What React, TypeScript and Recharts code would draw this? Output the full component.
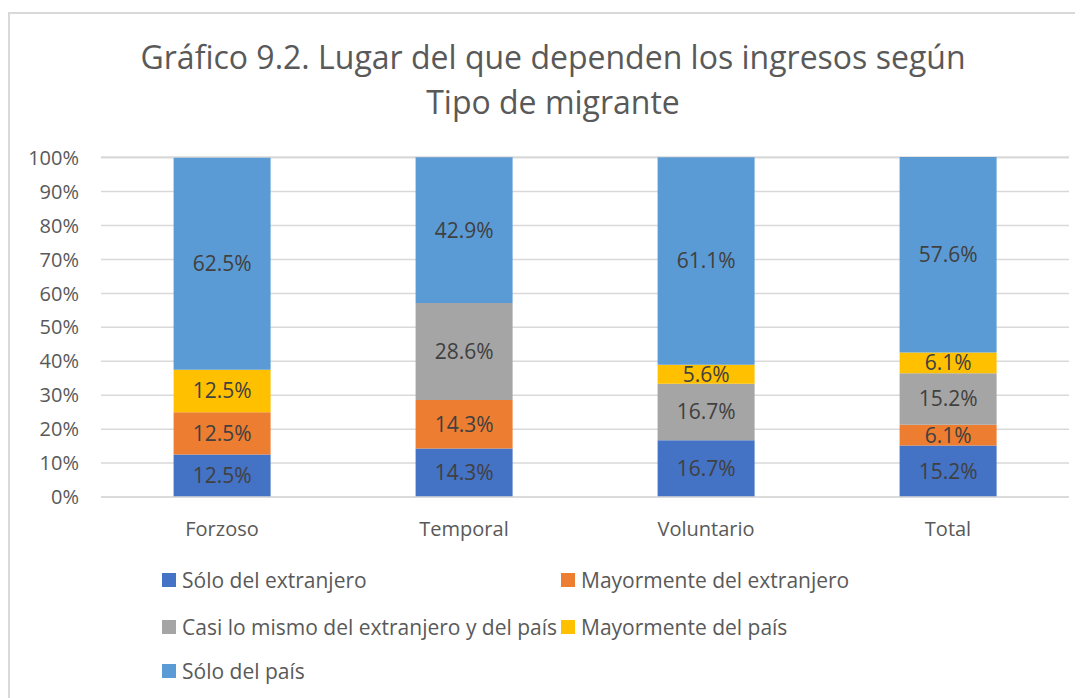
import React from "react";
import { Bar, BarChart, CartesianGrid, LabelList, XAxis, YAxis } from "recharts";

const CATEGORIES = ["Forzoso", "Temporal", "Voluntario", "Total"];
const SOLO_EXTRANJERO = [12.5, 14.3, 16.7, 15.2];
const MAYOR_EXTRANJERO = [12.5, 14.3, 0, 6.1];
const CASI_MISMO = [0, 28.6, 16.7, 15.2];
const MAYOR_PAIS = [12.5, 0, 5.6, 6.1];
const SOLO_PAIS = [62.5, 42.9, 61.1, 57.6];
const Y_TICKS = [0, 10, 20, 30, 40, 50, 60, 70, 80, 90, 100];

const SERIES = [
  { key: "soloExt", name: "Sólo del extranjero", color: "#4472C4" },
  { key: "mayorExt", name: "Mayormente del extranjero", color: "#ED7D31" },
  { key: "casi", name: "Casi lo mismo del extranjero y del país", color: "#A5A5A5" },
  { key: "mayorPais", name: "Mayormente del país", color: "#FFC000" },
  { key: "soloPais", name: "Sólo del país", color: "#5B9BD5" },
];

const data = CATEGORIES.map((c, i) => ({
  cat: c,
  soloExt: SOLO_EXTRANJERO[i],
  mayorExt: MAYOR_EXTRANJERO[i],
  casi: CASI_MISMO[i],
  mayorPais: MAYOR_PAIS[i],
  soloPais: SOLO_PAIS[i],
}));

const FONT = "Open Sans, Liberation Sans, sans-serif";
const TEXT = "#595959";

// legend: [series index, left, top] in page-relative coords
const LEGEND_POS: [number, number, number][] = [
  [0, 154, 563],
  [1, 553, 563],
  [2, 154, 610],
  [3, 553, 610],
  [4, 154, 654],
];

export default function App() {
  return (
    <div style={{ position: "relative", width: 1075, height: 690, overflow: "hidden", fontFamily: FONT }}>
      <div
        style={{
          position: "absolute",
          left: 0,
          top: 4,
          width: 1200,
          height: 800,
          borderLeft: "2px solid #d9d9d9",
          borderTop: "2px solid #d9d9d9",
        }}
      />
      <div
        style={{
          position: "absolute",
          left: 0,
          width: 1090,
          top: 26,
          textAlign: "center",
          fontSize: 32,
          lineHeight: "45px",
          color: TEXT,
        }}
      >
        Gráfico 9.2. Lugar del que dependen los ingresos según
        <br />
        Tipo de migrante
      </div>
      <div style={{ position: "absolute", left: 0, top: 0 }}>
        <BarChart
          width={1075}
          height={540}
          data={data}
          margin={{ top: 149, right: 14, left: 23, bottom: 21 }}
          barCategoryGap="30%"
        >
          <CartesianGrid vertical={false} stroke="#d9d9d9" strokeWidth={1.5} />
          <XAxis
            dataKey="cat"
            axisLine={{ stroke: "#d9d9d9", strokeWidth: 1.5 }}
            tickLine={false}
            tick={{ fill: TEXT, fontSize: 20, fontFamily: FONT, dy: 17 }}
            height={30}
          />
          <YAxis
            domain={[0, 100]}
            ticks={Y_TICKS}
            tickFormatter={(v: number) => `${v}%`}
            axisLine={false}
            tickLine={false}
            tick={{ fill: TEXT, fontSize: 20, fontFamily: FONT, dx: -14 }}
            width={70}
            interval={0}
          />
          {SERIES.map((s) => (
            <Bar key={s.key} dataKey={s.key} stackId="a" fill={s.color} isAnimationActive={false}>
              <LabelList
                dataKey={s.key}
                position="center"
                formatter={(v: number) => (v ? `${v.toFixed(1)}%` : "")}
                style={{ fill: "#404040", fontSize: 21, fontFamily: FONT }}
              />
            </Bar>
          ))}
        </BarChart>
      </div>
      {LEGEND_POS.map(([i, left, top]) => (
        <div
          key={i}
          style={{
            position: "absolute",
            left,
            top,
            height: 18,
            display: "flex",
            alignItems: "center",
            fontSize: 21,
            color: TEXT,
            whiteSpace: "nowrap",
          }}
        >
          <span style={{ width: 14, height: 14, background: SERIES[i].color, marginRight: 6, display: "inline-block" }} />
          {SERIES[i].name}
        </div>
      ))}
    </div>
  );
}
